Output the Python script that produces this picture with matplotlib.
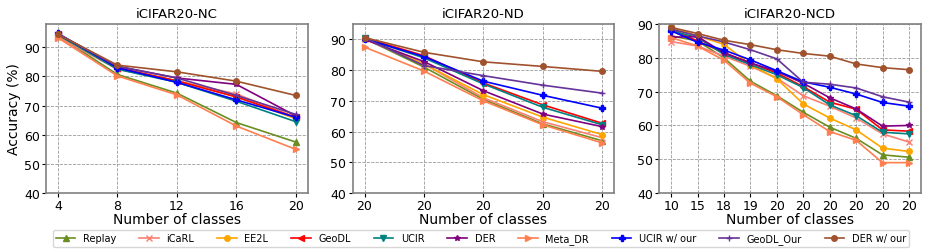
import numpy as np
import matplotlib
matplotlib.use('Agg')
from matplotlib import pyplot as plt

methods = ['Replay', 'iCaRL', 'EE2L', 'GeoDL', 'UCIR', 'DER', 'Meta_DR',
           'UCIR w/ our', 'GeoDL_Our', 'DER w/ our']
colors = ['olivedrab', 'salmon', 'orange', 'red', 'teal', 'purple', 'coral',
          'blue', 'rebeccapurple', 'sienna']
markers = ['^', 'x', 'o', '<', 'v', '*', '>', 'P', '+', 'o']

# iCIFAR20-NC
nc_x = [4, 8, 12, 16, 20]
nc = {
    'Replay':      [94.0, 80.7, 74.3, 64.2, 57.5],
    'iCaRL':       [93.5, 82.5, 78.5, 74.0, 66.0],
    'EE2L':        [94.2, 83.0, 78.5, 73.0, 65.5],
    'GeoDL':       [94.5, 83.0, 78.5, 73.0, 66.0],
    'UCIR':        [94.3, 82.5, 78.0, 71.5, 64.5],
    'DER':         [94.5, 83.5, 79.5, 77.3, 66.5],
    'Meta_DR':     [93.3, 80.2, 73.7, 63.0, 55.0],
    'UCIR w/ our': [94.8, 83.0, 78.0, 72.0, 66.0],
    'GeoDL_Our':   [94.6, 83.5, 79.5, 73.5, 67.0],
    'DER w/ our':  [94.5, 83.9, 81.6, 78.4, 73.5],
}

# iCIFAR20-ND
nd_labels = ['20', '20', '20', '20', '20']
nd = {
    'Replay':      [90.3, 81.0, 70.5, 62.5, 57.0],
    'iCaRL':       [90.2, 82.0, 71.0, 63.2, 58.0],
    'EE2L':        [90.4, 82.0, 72.0, 64.7, 59.0],
    'GeoDL':       [90.5, 84.7, 75.8, 68.7, 62.7],
    'UCIR':        [90.3, 84.0, 75.5, 67.9, 62.2],
    'DER':         [90.0, 82.8, 73.3, 65.7, 61.6],
    'Meta_DR':     [87.5, 79.7, 70.0, 62.2, 56.3],
    'UCIR w/ our': [90.2, 84.4, 76.4, 71.8, 67.6],
    'GeoDL_Our':   [90.5, 81.5, 78.2, 75.1, 72.5],
    'DER w/ our':  [90.6, 85.8, 82.7, 81.2, 79.6],
}

# iCIFAR20-NCD
ncd_labels = ['10', '15', '18', '19', '20', '20', '20', '20', '20', '20']
ncd = {
    'Replay':      [86.5, 85.0, 80.0, 73.1, 68.8, 63.9, 59.5, 56.2, 51.3, 50.6],
    'iCaRL':       [84.8, 83.5, 80.5, 77.5, 74.0, 68.8, 65.7, 62.2, 57.5, 55.1],
    'EE2L':        [89.0, 86.5, 84.0, 78.0, 73.8, 66.4, 62.2, 58.7, 53.3, 52.3],
    'GeoDL':       [88.5, 85.0, 81.5, 78.5, 75.5, 71.5, 66.9, 64.8, 58.7, 58.3],
    'UCIR':        [88.0, 86.0, 81.0, 78.0, 75.0, 71.2, 66.1, 62.9, 58.0, 57.5],
    'DER':         [86.1, 86.3, 81.5, 78.5, 76.0, 72.5, 68.2, 64.9, 59.8, 60.0],
    'Meta_DR':     [86.0, 83.5, 79.3, 72.5, 68.5, 63.2, 58.2, 55.6, 49.0, 49.0],
    'UCIR w/ our': [88.0, 84.6, 82.3, 79.4, 76.2, 72.9, 71.3, 69.3, 66.8, 65.7],
    'GeoDL_Our':   [88.5, 86.5, 84.7, 82.4, 79.7, 72.8, 72.2, 71.1, 68.5, 66.9],
    'DER w/ our':  [89.0, 87.2, 85.2, 83.9, 82.4, 81.3, 80.5, 78.2, 77.1, 76.5],
}

fig, axes = plt.subplots(1, 3, figsize=(9.32, 2.53), dpi=100)
fig.subplots_adjust(left=0.0494, right=0.988, top=0.901, bottom=0.233, wspace=0.172)

panels = [
    ('iCIFAR20-NC', nc_x, None, nc, (40, 98), [40, 50, 60, 70, 80, 90]),
    ('iCIFAR20-ND', list(range(5)), nd_labels, nd, (40, 95), [40, 50, 60, 70, 80, 90]),
    ('iCIFAR20-NCD', list(range(10)), ncd_labels, ncd, (40, 90), [40, 50, 60, 70, 80, 90]),
]

for ax, (title, x, labels, data, ylim, yticks) in zip(axes, panels):
    for m, c, mk in zip(methods, colors, markers):
        ax.plot(x, data[m], color=c, marker=mk, markersize=4, linewidth=1.2, label=m)
    ax.set_title(title, fontsize=9.5, pad=5)
    ax.set_xticks(x)
    if labels is not None:
        ax.set_xticklabels(labels)
    ax.set_ylim(*ylim)
    ax.set_yticks(yticks)
    ax.tick_params(labelsize=9, pad=1.5, length=3)
    ax.set_xlabel('Number of classes', fontsize=10, labelpad=0)
    ax.grid(True, linestyle='--', color='gray', linewidth=0.6, alpha=0.8)
    for s in ax.spines.values():
        s.set_color('gray')
        s.set_linewidth(1.2)

axes[0].set_ylabel('Accuracy (%)', fontsize=10, labelpad=2)

handles, lbls = axes[0].get_legend_handles_labels()
fig.legend(handles, lbls, loc='center', bbox_to_anchor=(0.516, 0.053), ncol=10,
           fontsize=7, handlelength=2.0, borderpad=0.3, columnspacing=2.35)

fig.savefig('out.png', dpi=100)
